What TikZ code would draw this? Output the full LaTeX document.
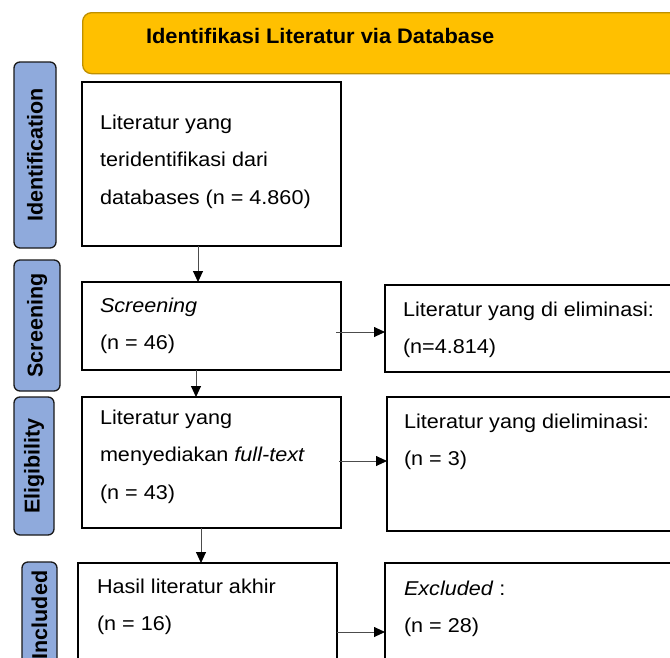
\documentclass[tikz,border=0pt]{standalone}
\usepackage{fontspec}
\setmainfont{Liberation Sans}
\newfontfamily\bodyfont[FakeStretch=1.08]{Liberation Sans}
\newfontfamily\titlefont[FakeStretch=1.04]{Liberation Sans}
\newfontfamily\sidefont{Liberation Sans}
\usetikzlibrary{arrows.meta,calc}
\definecolor{bannerfill}{HTML}{FFC000}
\definecolor{bannerline}{HTML}{BF9000}
\definecolor{sidefill}{HTML}{8FAADC}
\newcommand\txtlines[1]{\parbox[t]{270pt}{\bodyfont\fontsize{20}{37.8}\selectfont #1}}
\begin{document}
\begin{tikzpicture}[x=1pt,y=-1pt,
  box/.style={draw=black, line width=1.3pt, anchor=north west, inner sep=0pt, outer sep=0pt, fill=white},
  txt/.style={anchor=base west, inner sep=0pt, outer sep=0pt},
  side/.style={draw=black!90, fill=sidefill, line width=1.3pt, rounded corners=6pt, rotate=90, inner sep=0pt, font=\sidefont\bfseries\fontsize{21.5}{24}\selectfont},
  banner/.style={draw=bannerline, fill=bannerfill, line width=1.3pt, rounded corners=9pt, anchor=north west, inner sep=0pt},
  arr/.style={-{Triangle[length=11pt,width=10pt,color=black]}, line width=0.9pt, draw=black!70}]
\useasboundingbox (0,0) rectangle (670,657);
\fill[white] (0,0) rectangle (670,657);

% banner
\node[banner, minimum width=640pt, minimum height=61pt] (ban) at (82,12) {};
\node[txt, font=\titlefont\bfseries\fontsize{21}{25}\selectfont] (title) at (146,43) {Identifikasi Literatur via Database};

% side labels
\node[side, minimum width=186pt, minimum height=42pt] (s1) at (35,155) {Identification\hspace{12pt}};
\node[side, minimum width=131pt, minimum height=46pt] (s2) at (37,325.5) {Screening\hspace{11pt}};
\node[side, minimum width=138pt, minimum height=40pt] (s3) at (34,466) {Eligibility};
\node[side, minimum width=106pt, minimum height=35pt] (s4) at (39.5,615) {Included};

% main boxes
\node[box, minimum width=259pt, minimum height=164pt] (b1) at (82,82) {};
\node[box, minimum width=259pt, minimum height=88pt] (b2) at (82,282) {};
\node[box, minimum width=259pt, minimum height=131pt] (b3) at (82,397) {};
\node[box, minimum width=259pt, minimum height=110pt] (b4) at (78,563) {};

% right boxes
\node[box, minimum width=320pt, minimum height=87pt] (r1) at (385,285) {};
\node[box, minimum width=320pt, minimum height=134pt] (r2) at (387,397) {};
\node[box, minimum width=320pt, minimum height=110pt] (r3) at (385,563) {};

% texts
\node[txt] (t1) at (100,129) {\txtlines{Literatur yang\\teridentifikasi dari\\databases (n = 4.860)}};
\node[txt] (t2) at (100,312) {\txtlines{\textit{Screening}\\(n = 46)}};
\node[txt] (t3) at (100,424) {\txtlines{Literatur yang\\menyediakan \textit{full-text}\\(n = 43)}};
\node[txt] (t4) at (97,593) {\txtlines{Hasil literatur akhir\\(n = 16)}};
\node[txt] (u1) at (403,316) {\txtlines{Literatur yang di eliminasi:\\(n=4.814)}};
\node[txt] (u2) at (404,428) {\txtlines{Literatur yang dieliminasi:\\(n = 3)}};
\node[txt] (u3) at (404,595) {\txtlines{\textit{Excluded} :\\(n = 28)}};

% vertical connectors
\draw[arr] ([xshift=116pt]b1.south west) -- ([xshift=116pt]b1.south west |- b2.north);
\draw[arr] ([xshift=114pt]b2.south west) -- ([xshift=114pt]b2.south west |- b3.north);
\draw[arr] ([xshift=119pt]b3.south west) -- ([xshift=119pt]b3.south west |- b4.north);

% horizontal connectors
\coordinate (h1) at ([xshift=-5pt,yshift=-50pt]b2.north east);
\draw[arr] (h1) -- (h1 -| r1.west);
\coordinate (h2) at ([xshift=-2pt,yshift=-64pt]b3.north east);
\draw[arr] (h2) -- (h2 -| r2.west);
\coordinate (h3) at ([yshift=-69pt]b4.north east);
\draw[arr] (h3) -- (h3 -| r3.west);
\end{tikzpicture}
\end{document}
